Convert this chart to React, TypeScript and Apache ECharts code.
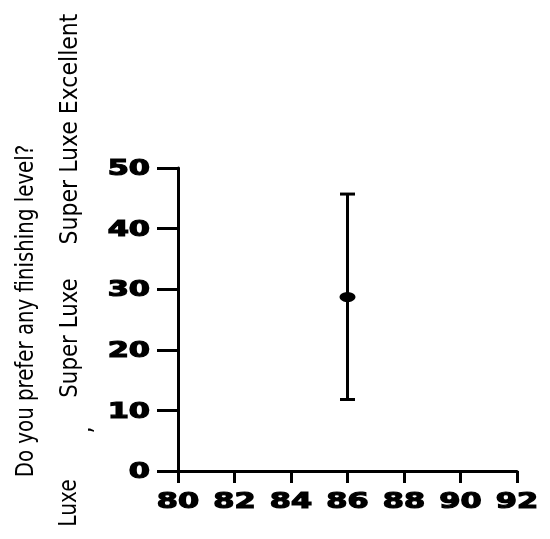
import React, { useEffect, useRef } from "react";
import * as echarts from "echarts";

const xValues = [86];
const meanValues = [28.7];
const lowValues = [11.8];
const highValues = [45.7];

const xMin = 80, xMax = 92, xStep = 2;
const yMin = 0, yMax = 50, yStep = 10;
const xTickLabels = ["80", "82", "84", "86", "88", "90", "92"];
const yTickLabels = ["0", "10", "20", "30", "40", "50"];

const titleText = "Do you prefer any finishing level?";
const labelTexts = ["Super Luxe Excellent", "Super Luxe", ",", "Luxe"];

export default function App() {
  const ref = useRef<HTMLDivElement>(null);
  useEffect(() => {
    if (!ref.current) return;
    const chart = echarts.init(ref.current, null, { renderer: "svg" });
    const narrow = "'Liberation Sans Narrow', 'DejaVu Sans Condensed', 'Liberation Sans', sans-serif";
    const errData = xValues.map((x, i) => [x, lowValues[i], highValues[i]]);
    const sideText = (text: string, x: number, y: number, sx: number) => ({
      type: "text", x, y, rotation: Math.PI / 2, scaleX: sx, scaleY: 1,
      style: { text, font: `25px ${narrow}`, fill: "#000", textAlign: "center", textVerticalAlign: "middle" },
    });
    const sideGraphics = [
      sideText(titleText, 25, 311, 0.88),
      sideText(labelTexts[0], 68, 129, 0.98),
      sideText(labelTexts[1], 68, 338, 0.95),
      sideText(labelTexts[2], 82, 430, 1),
      sideText(labelTexts[3], 68, 503, 0.9),
    ];
    chart.setOption({
      animation: false,
      grid: { left: 178, right: 33, top: 168, bottom: 68, containLabel: false },
      xAxis: {
        type: "value", min: xMin, max: xMax, interval: xStep,
        axisLine: { show: true, lineStyle: { color: "#000", width: 3 } },
        axisTick: { show: true, length: 12, lineStyle: { color: "#000", width: 3 } },
        axisLabel: { show: false },
        splitLine: { show: false },
      },
      yAxis: {
        type: "value", min: yMin, max: yMax, interval: yStep,
        axisLine: { show: true, lineStyle: { color: "#000", width: 3 } },
        axisTick: { show: true, length: 21, lineStyle: { color: "#000", width: 3 } },
        axisLabel: { show: false },
        splitLine: { show: false },
      },
      graphic: sideGraphics,
      series: [
        {
          type: "custom",
          data: errData,
          renderItem: (params: any, api: any) => {
            const x = api.value(0);
            const lo = api.coord([x, api.value(1)]);
            const hi = api.coord([x, api.value(2)]);
            const cap = 7.5;
            const st = { stroke: "#000", lineWidth: 3 };
            return {
              type: "group",
              children: [
                { type: "line", shape: { x1: lo[0], y1: lo[1], x2: hi[0], y2: hi[1] }, style: st },
                { type: "line", shape: { x1: lo[0] - cap, y1: lo[1], x2: lo[0] + cap, y2: lo[1] }, style: st },
                { type: "line", shape: { x1: hi[0] - cap, y1: hi[1], x2: hi[0] + cap, y2: hi[1] }, style: st },
              ],
            };
          },
          z: 2,
        },
        {
          type: "scatter",
          data: xValues.map((x, i) => [x, meanValues[i]]),
          symbol: "circle",
          symbolSize: [16, 10],
          itemStyle: { color: "#000", opacity: 1 },
          z: 3,
        },
      ],
    });
    const tickStyle = {
      font: "bold 21px 'DejaVu Sans', sans-serif", fill: "#000",
      stroke: "#000", lineWidth: 1.2,
    };
    const x0 = chart.convertToPixel({ xAxisIndex: 0 }, xMin) as number;
    const yBase = chart.convertToPixel({ yAxisIndex: 0 }, yMin) as number;
    const xLabels = xTickLabels.map((t) => ({
      type: "text",
      x: chart.convertToPixel({ xAxisIndex: 0 }, Number(t)) as number,
      y: yBase + 30,
      scaleX: 1.45,
      style: { ...tickStyle, text: t, textAlign: "center", textVerticalAlign: "middle" },
    }));
    const yLabels = yTickLabels.map((t) => ({
      type: "text",
      x: x0 - 28,
      y: chart.convertToPixel({ yAxisIndex: 0 }, Number(t)) as number,
      scaleX: 1.45,
      style: { ...tickStyle, text: t, textAlign: "right", textVerticalAlign: "middle" },
    }));
    chart.setOption({ graphic: [...sideGraphics, ...xLabels, ...yLabels] });
    return () => chart.dispose();
  }, []);
  return <div ref={ref} style={{ position: "fixed", left: 0, top: 0, width: 550, height: 539 }} />;
}
